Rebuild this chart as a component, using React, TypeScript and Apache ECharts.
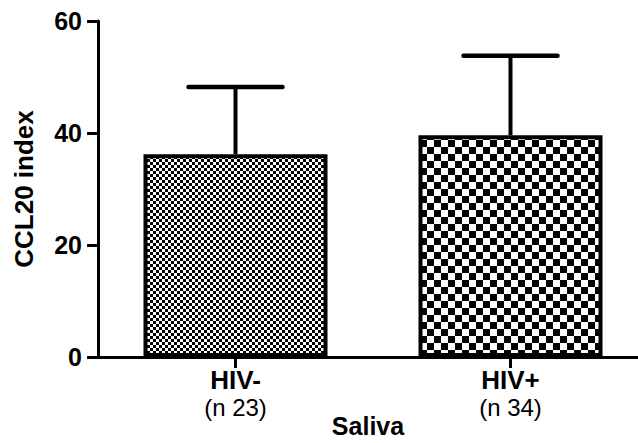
import React, { useEffect, useRef } from "react";
import * as echarts from "echarts";

const categories = ["HIV-", "HIV+"];
const sampleSizes = ["(n 23)", "(n 34)"];
const categoryPositions = [0, 1];
const means = [36.2, 39.6];
const errorsUp = [12.0, 14.2];
const yTicks = [0, 20, 40, 60];
const cellSizes = [3, 7];

function makeChecker(cell: number): HTMLCanvasElement {
  const c = document.createElement("canvas");
  c.width = cell * 2;
  c.height = cell * 2;
  const ctx = c.getContext("2d")!;
  ctx.fillStyle = "#ffffff";
  ctx.fillRect(0, 0, cell * 2, cell * 2);
  ctx.fillStyle = "#000000";
  ctx.fillRect(0, 0, cell, cell);
  ctx.fillRect(cell, cell, cell, cell);
  return c;
}

export default function App() {
  const ref = useRef<HTMLDivElement>(null);
  useEffect(() => {
    document.body.style.margin = "0";
    document.body.style.overflow = "hidden";
    const chart = echarts.init(ref.current!, null, { renderer: "svg" });
    const font = "Liberation Sans, Arial, Helvetica, sans-serif";
    const gridLeft = 98;
    const gridRight = 638;
    const band = 275;
    const xMin = -0.5;
    const xMax = (gridRight - gridLeft) / band + xMin;
    const barData = means.map((v, i) => {
      const cv = makeChecker(cellSizes[i]);
      return {
        value: [categoryPositions[i], v],
        itemStyle: {
          color: {
            image: cv.toDataURL(),
            repeat: "repeat",
            imageWidth: cellSizes[i] * 2,
            imageHeight: cellSizes[i] * 2,
          } as any,
          borderColor: "#000",
          borderWidth: 4,
        },
      };
    });
    chart.setOption({
      animation: false,
      grid: {
        left: gridLeft,
        top: 21,
        width: gridRight - gridLeft,
        height: 336,
        containLabel: false,
        outerBoundsMode: "none",
      },
      xAxis: [
        {
          type: "value",
          min: xMin,
          max: xMax,
          name: "Saliva",
          nameLocation: "middle",
          nameGap: 56,
          nameMoveOverlap: false,
          nameTextStyle: { fontFamily: font, fontWeight: "bold", fontSize: 25, color: "#000" },
          splitLine: { show: false },
          axisLine: { show: true, onZero: false, lineStyle: { color: "#000", width: 3 } },
          axisTick: { show: true, customValues: categoryPositions, length: 11, lineStyle: { color: "#000", width: 3 } },
          axisLabel: {
            margin: 10,
            customValues: categoryPositions,
            formatter: (val: number) => categories[Math.round(val)],
            fontFamily: font,
            fontWeight: "bold",
            fontSize: 26,
            color: "#000",
            lineHeight: 26,
          },
        },
        {
          type: "value",
          position: "bottom",
          min: xMin,
          max: xMax,
          splitLine: { show: false },
          axisLine: { show: false },
          axisTick: { show: false },
          axisLabel: {
            margin: 38,
            customValues: categoryPositions,
            formatter: (val: number) => sampleSizes[Math.round(val)],
            fontFamily: font,
            fontWeight: "normal",
            fontSize: 24,
            color: "#000",
            lineHeight: 24,
          },
        },
      ],
      yAxis: {
        type: "value",
        min: yTicks[0],
        max: yTicks[yTicks.length - 1],
        interval: 20,
        name: "CCL20 index",
        nameLocation: "middle",
        nameGap: 61,
        nameMoveOverlap: false,
        nameTextStyle: { fontFamily: font, fontWeight: "bold", fontSize: 26, color: "#000" },
        axisLine: { show: true, onZero: false, lineStyle: { color: "#000", width: 3 } },
        axisTick: { show: true, length: 11, lineStyle: { color: "#000", width: 3 } },
        axisLabel: { margin: 16, fontFamily: font, fontWeight: "bold", fontSize: 25, color: "#000" },
        splitLine: { show: false },
      },
      series: [
        {
          type: "custom",
          z: 1,
          data: means.map((m, i) => [categoryPositions[i], m, m + errorsUp[i]]),
          renderItem: (params: any, api: any) => {
            const base = api.coord([api.value(0), api.value(1)]);
            const top = api.coord([api.value(0), api.value(2)]);
            const half = 47;
            return {
              type: "group",
              children: [
                {
                  type: "line",
                  shape: { x1: base[0], y1: base[1], x2: top[0], y2: top[1] },
                  style: { stroke: "#000", lineWidth: 4 },
                },
                {
                  type: "line",
                  shape: { x1: top[0] - half, y1: top[1], x2: top[0] + half, y2: top[1] },
                  style: { stroke: "#000", lineWidth: 4.5, lineCap: "round" },
                },
              ],
            };
          },
        },
        {
          type: "bar",
          z: 2,
          barWidth: 184,
          data: barData,
        },
      ],
    });
    return () => chart.dispose();
  }, []);
  return <div ref={ref} style={{ width: 638, height: 443, overflow: "hidden" }} />;
}
